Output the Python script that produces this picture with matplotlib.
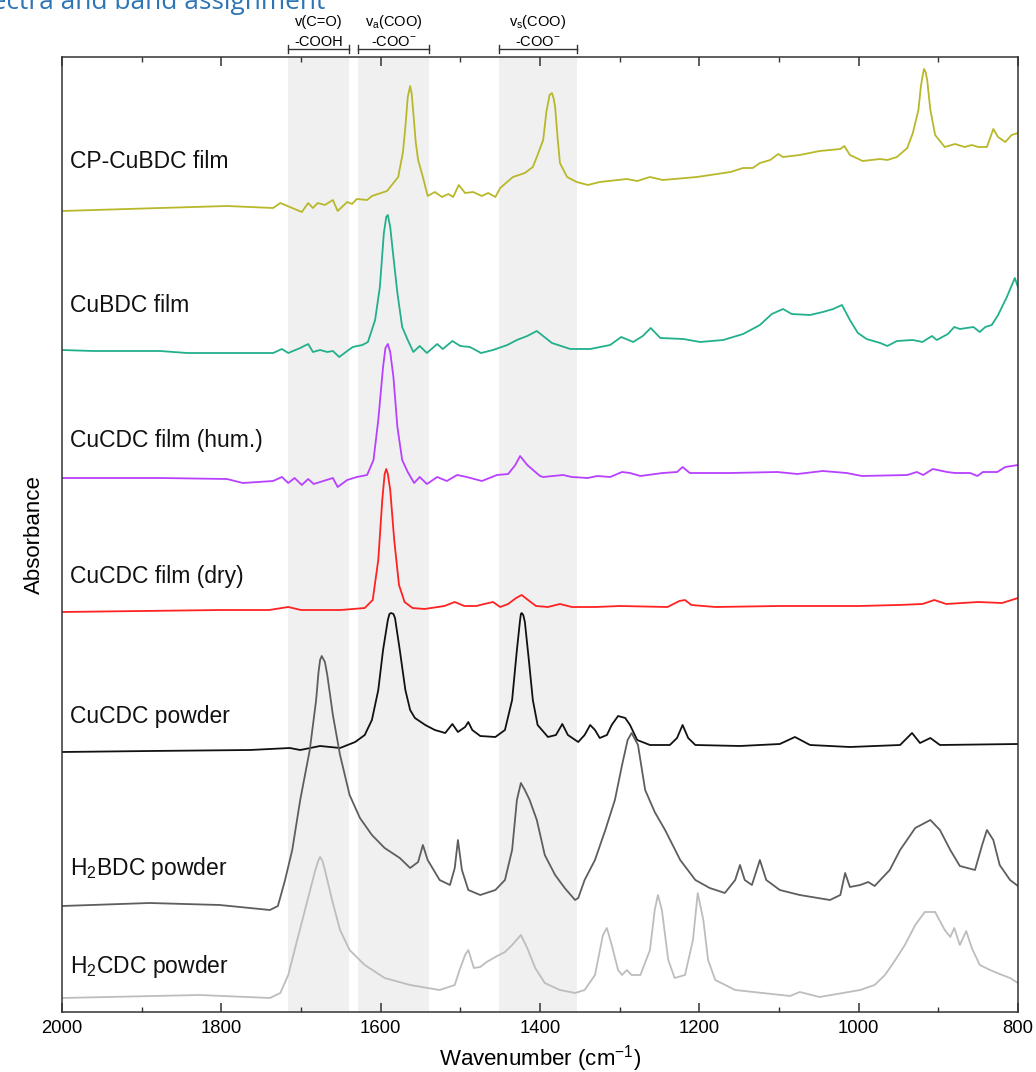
import numpy as np
import matplotlib
matplotlib.use("Agg")
import matplotlib.pyplot as plt

plt.rcParams['font.family'] = ['Liberation Sans', 'DejaVu Sans']
plt.rcParams['mathtext.fontset'] = 'custom'
plt.rcParams['mathtext.rm'] = 'Liberation Sans'
plt.rcParams['mathtext.it'] = 'Liberation Sans:italic'
plt.rcParams['mathtext.bf'] = 'Liberation Sans:bold'

# spectra, already stacked (arbitrary absorbance units)
cp_wn = [2000, 1877, 1793, 1735, 1726, 1714, 1699, 1691, 1685, 1679, 1670, 1660, 1654, 1642, 1636, 1630,
         1617, 1611, 1592, 1578, 1572, 1569, 1566, 1563, 1561, 1559, 1556, 1553, 1547, 1541, 1532, 1523,
         1515, 1509, 1502, 1494, 1484, 1473, 1465, 1456, 1450, 1434, 1419, 1409, 1404, 1396, 1392, 1388,
         1385, 1383, 1381, 1378, 1375, 1366, 1354, 1340, 1325, 1291, 1278, 1262, 1246, 1203, 1161, 1145,
         1133, 1124, 1111, 1101, 1095, 1074, 1049, 1023, 1018, 1011, 995, 973, 964, 952, 939, 932, 925,
         922, 920, 918, 916, 914, 910, 904, 892, 879, 867, 858, 850, 839, 831, 825, 816, 808, 800]
cp_ab = [801, 804, 806, 804, 809, 805, 800, 809, 804, 809, 807, 812, 801, 810, 808, 813,
         812, 816, 821, 835, 860, 885, 915, 926, 918, 899, 870, 852, 835, 816, 820, 815,
         818, 815, 827, 819, 820, 816, 819, 815, 824, 835, 839, 845, 855, 872, 900, 917,
         919, 914, 905, 875, 849, 835, 830, 827, 830, 833, 831, 835, 832, 835, 840, 844,
         844, 849, 852, 858, 855, 857, 861, 863, 866, 857, 851, 853, 852, 855, 864, 879, 902,
         925, 935, 943, 940, 932, 902, 877, 865, 868, 865, 867, 865, 865, 883, 875, 870, 877, 879]

cubdc_wn = [2000, 1961, 1877, 1843, 1793, 1768, 1735, 1724, 1716, 1701, 1691, 1685, 1676, 1667, 1660, 1652,
            1642, 1635, 1623, 1616, 1607, 1601, 1596, 1593, 1591, 1588, 1584, 1579, 1573, 1566, 1559, 1551,
            1542, 1529, 1522, 1510, 1500, 1488, 1474, 1459, 1441, 1429, 1416, 1404, 1385, 1362, 1337, 1312,
            1298, 1283, 1271, 1261, 1249, 1220, 1199, 1170, 1145, 1124, 1109, 1095, 1084, 1061, 1045, 1032,
            1021, 1011, 1001, 990, 973, 964, 952, 932, 920, 908, 902, 888, 880, 873, 856, 848, 841, 833,
            825, 814, 804, 800]
cubdc_ab = [662, 661, 661, 659, 659, 659, 659, 663, 659, 664, 668, 660, 662, 660, 661, 655,
            661, 665, 667, 670, 692, 725, 779, 795, 797, 785, 755, 719, 685, 672, 660, 666,
            659, 668, 663, 671, 666, 665, 659, 662, 667, 672, 676, 681, 669, 663, 663, 667,
            675, 670, 676, 684, 674, 673, 670, 672, 678, 687, 698, 703, 698, 697, 700, 703,
            707, 692, 679, 673, 669, 666, 671, 672, 670, 676, 672, 678, 685, 683, 685, 680, 685, 687,
            697, 715, 734, 725]

hum_wn = [2000, 1877, 1793, 1773, 1735, 1724, 1716, 1708, 1699, 1691, 1684, 1672, 1660, 1654, 1642, 1630,
          1617, 1609, 1603, 1597, 1594, 1591, 1588, 1584, 1579, 1573, 1566, 1558, 1551, 1542, 1529, 1517,
          1504, 1492, 1473, 1454, 1440, 1431, 1425, 1416, 1400, 1396, 1371, 1360, 1340, 1328, 1312, 1297,
          1287, 1274, 1246, 1228, 1221, 1212, 1161, 1102, 1077, 1045, 1015, 996, 939, 927, 919, 907, 889,
          879, 860, 851, 844, 826, 816, 800]
hum_ab = [534, 534, 533, 529, 531, 535, 529, 534, 527, 533, 528, 531, 534, 525, 532, 535,
          537, 552, 592, 645, 664, 668, 660, 635, 585, 552, 540, 529, 535, 528, 535, 531,
          537, 535, 531, 537, 538, 547, 556, 547, 536, 535, 537, 535, 534, 536, 535, 540,
          539, 536, 539, 540, 545, 539, 539, 540, 538, 541, 539, 536, 537, 540, 537, 543, 540,
          539, 539, 536, 540, 540, 545, 547]

dry_wn = [2000, 1900, 1800, 1740, 1716, 1700, 1650, 1620, 1610, 1603, 1598, 1595, 1593, 1591, 1588, 1583,
          1577, 1570, 1560, 1545, 1520, 1507, 1495, 1480, 1470, 1459, 1450, 1440, 1430, 1423, 1415, 1405,
          1390, 1375, 1360, 1330, 1300, 1240, 1225, 1218, 1210, 1180, 1100, 1000, 950, 920, 905, 890, 850,
          820, 800]
dry_ab = [400, 401, 402, 402, 405, 402, 402, 404, 412, 452, 512, 538, 543, 538, 522, 472,
          427, 410, 404, 403, 406, 410, 406, 406, 408, 410, 405, 408, 414, 417, 412, 406,
          405, 408, 405, 405, 406, 405, 411, 412, 407, 405, 406, 406, 407, 408, 412, 408, 410,
          409, 414]

pow_wn = [2000, 1890, 1764, 1714, 1701, 1676, 1651, 1632, 1620, 1611, 1603, 1597, 1591, 1589, 1587, 1584,
          1582, 1576, 1569, 1563, 1557, 1544, 1532, 1519, 1510, 1503, 1494, 1490, 1485, 1475, 1456, 1444,
          1435, 1429, 1425, 1424, 1423, 1421, 1419, 1414, 1409, 1403, 1390, 1380, 1372, 1365, 1352, 1344,
          1337, 1331, 1325, 1316, 1310, 1302, 1293, 1287, 1278, 1262, 1237, 1228, 1221, 1214, 1205, 1149,
          1099, 1080, 1061, 1011, 948, 933, 923, 910, 898, 800]
pow_ab = [260, 261, 262, 264, 262, 266, 264, 270, 277, 292, 322, 362, 392, 398, 399, 398,
          394, 362, 322, 302, 294, 287, 282, 279, 288, 280, 285, 290, 282, 276, 275, 282,
          312, 362, 392, 398, 399, 397, 390, 352, 312, 287, 275, 277, 288, 277, 270, 277,
          287, 282, 274, 277, 287, 296, 294, 287, 272, 267, 267, 274, 287, 274, 267, 266,
          268, 275, 267, 265, 267, 279, 269, 274, 267, 268]

h2bdc_wn = [2000, 1890, 1802, 1739, 1729, 1720, 1711, 1701, 1689, 1681, 1678, 1676, 1674, 1670, 1667, 1660,
            1651, 1639, 1626, 1611, 1595, 1576, 1563, 1553, 1547, 1541, 1526, 1513, 1507, 1503, 1498, 1490,
            1475, 1456, 1444, 1435, 1429, 1424, 1419, 1413, 1404, 1394, 1381, 1369, 1356, 1352, 1344, 1331,
            1318, 1306, 1297, 1290, 1285, 1277, 1268, 1256, 1243, 1224, 1205, 1187, 1168, 1155, 1149, 1143,
            1134, 1124, 1116, 1099, 1074, 1036, 1023, 1017, 1011, 998, 988, 980, 961, 948, 929, 910, 898,
            885, 873, 854, 845, 839, 831, 823, 810, 800]
h2bdc_ab = [106, 109, 107, 102, 106, 132, 162, 212, 262, 312, 340, 352, 356, 350, 337, 297,
            257, 217, 194, 177, 164, 154, 144, 150, 167, 152, 132, 127, 144, 172, 142, 122,
            117, 122, 132, 162, 212, 229, 222, 212, 192, 157, 137, 124, 112, 114, 132, 152,
            182, 212, 247, 272, 279, 267, 222, 200, 182, 152, 132, 124, 119, 132, 147, 132,
            127, 152, 132, 122, 117, 112, 117, 139, 125, 127, 130, 126, 142, 162, 184, 192, 182,
            162, 146, 142, 167, 182, 172, 147, 132, 126]

h2cdc_wn = [2000, 1827, 1739, 1726, 1716, 1708, 1695, 1682, 1678, 1676, 1673, 1670, 1661, 1651, 1639, 1620,
            1595, 1563, 1526, 1507, 1501, 1494, 1490, 1483, 1475, 1467, 1456, 1444, 1435, 1424, 1416, 1406,
            1394, 1375, 1356, 1344, 1331, 1321, 1316, 1310, 1302, 1297, 1291, 1285, 1274, 1262, 1256, 1252,
            1247, 1239, 1231, 1218, 1208, 1202, 1195, 1189, 1180, 1155, 1086, 1074, 1049, 998, 980, 967,
            954, 942, 929, 917, 904, 892, 885, 880, 873, 865, 858, 848, 835, 823, 810, 800]
h2cdc_ab = [14, 17, 14, 19, 37, 62, 102, 142, 152, 155, 151, 142, 112, 82, 62, 47,
            34, 27, 22, 27, 42, 57, 62, 44, 45, 50, 55, 60, 67, 77, 64, 44,
            29, 22, 19, 22, 37, 77, 84, 67, 42, 37, 42, 37, 37, 62, 102, 117,
            102, 52, 34, 37, 72, 119, 92, 52, 32, 22, 16, 20, 15, 22, 27, 37,
            52, 67, 87, 100, 100, 82, 75, 84, 67, 81, 64, 47, 42, 38, 34, 29]

spectra = [
    (cp_wn, cp_ab, '#B8B82A', 'CP-CuBDC film', 850),
    (cubdc_wn, cubdc_ab, '#22B08C', 'CuBDC film', 706),
    (hum_wn, hum_ab, '#B840FF', 'CuCDC film (hum.)', 572),
    (dry_wn, dry_ab, '#FF2222', 'CuCDC film (dry)', 435),
    (pow_wn, pow_ab, '#111111', 'CuCDC powder', 295),
    (h2bdc_wn, h2bdc_ab, '#5E5E5E', 'H$_2$BDC powder', 144),
    (h2cdc_wn, h2cdc_ab, '#BDBDBD', 'H$_2$CDC powder', 45),
]

# band regions (cm-1) and their labels
bands = [(1716, 1640), (1629, 1539), (1451, 1354)]
band_top = ['v(C=O)', 'v$_\\mathrm{a}$(COO)', 'v$_\\mathrm{s}$(COO)']
band_bot = ['-COOH', '-COO$^{-}$', '-COO$^{-}$']

fig = plt.figure(figsize=(10.36, 10.72), dpi=100)
ax = fig.add_axes([62/1036, 1-1012/1072, 956/1036, 955/1072])

for lo, hi in bands:
    ax.axvspan(lo, hi, color='#F0F0F0', zorder=0, lw=0)

for wn, ab, c, name, ty in spectra:
    ax.plot(wn, ab, color=c, lw=1.3, zorder=2)
    ax.text(1990, ty, name, fontsize=16.5, va='center', ha='left', color='#111111')

ax.set_xlim(2000, 800)
ax.set_ylim(0, 955)
ax.set_yticks([])
ax.set_xticks(np.arange(2000, 799, -200))
ax.set_xticks(np.arange(1900, 800, -200), minor=True)
ax.tick_params(axis='x', which='both', direction='in', top=True, bottom=True, color='#333333',
               labelsize=13.3, pad=6)
ax.tick_params(axis='x', which='major', length=6.5, width=1.1)
ax.tick_params(axis='x', which='minor', length=3.6, width=1.0)
for s in ax.spines.values():
    s.set_color('#333333')
    s.set_linewidth(1.1)

ax.set_xlabel('Wavenumber (cm$^{-1}$)', fontsize=16, labelpad=4)
ax.set_ylabel('Absorbance', fontsize=16, labelpad=12)

tr = ax.get_xaxis_transform()
for (lo, hi), t1, t2 in zip(bands, band_top, band_bot):
    yb = 1.0084
    ax.plot([lo, hi], [yb, yb], color='#333333', lw=1.0, transform=tr, clip_on=False)
    for e in (lo, hi):
        ax.plot([e, e], [yb - 0.004, yb + 0.004], color='#333333', lw=1.0, transform=tr, clip_on=False)
    mid = (lo + hi) / 2
    ax.text(mid, 1.0366, t1, transform=tr, ha='center', va='center', fontsize=10.5)
    ax.text(mid, 1.0160, t2, transform=tr, ha='center', va='center', fontsize=10.5)

fig.text(325/1036, 1 - 9/1072, 'Spectra and band assignment', fontsize=18.9, color='#2E75B6',
         ha='right', va='baseline', family='Open Sans')

fig.savefig('out.png', dpi=100)
